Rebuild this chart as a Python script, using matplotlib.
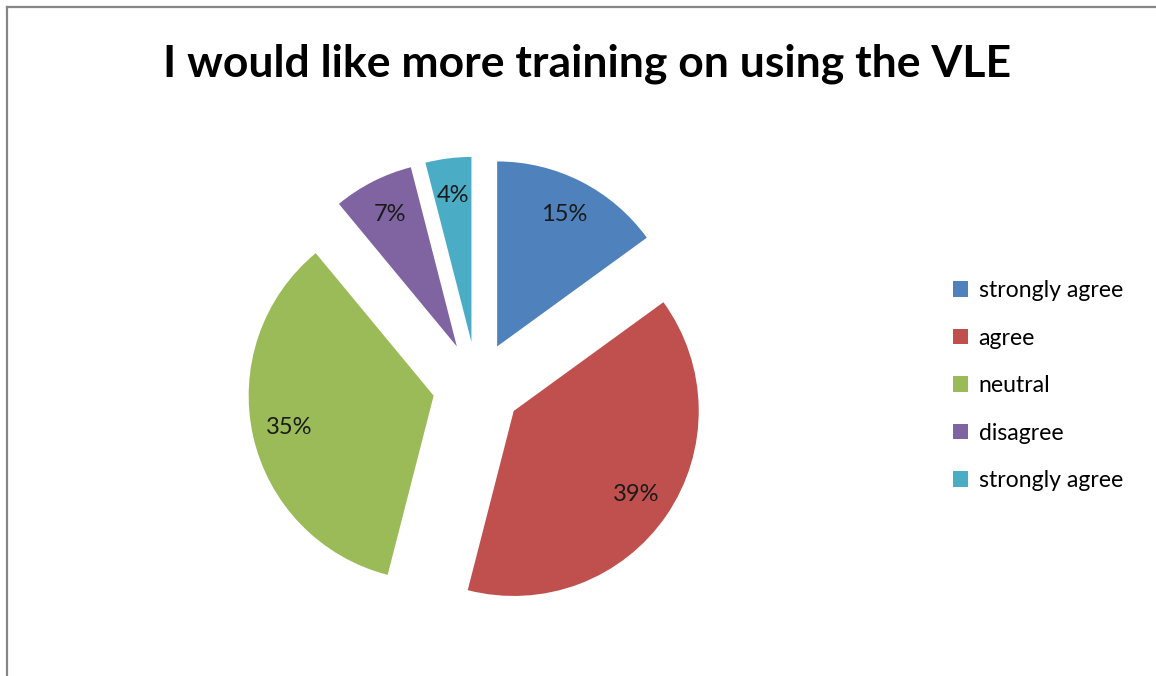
import matplotlib.pyplot as plt
from matplotlib.lines import Line2D

# Survey responses
labels = ['strongly agree', 'agree', 'neutral', 'disagree', 'strongly agree']
shares = [15, 39, 35, 7, 4]
colors = ['#4F81BD', '#C0504D', '#9BBB59', '#8064A2', '#4BACC6']
explode = [0.24, 0.24, 0.24, 0.24, 0.24]

plt.rcParams['font.family'] = ['Lato', 'DejaVu Sans']

W, H = 1156, 676
fig = plt.figure(figsize=(W / 100, H / 100), dpi=100)
fig.patch.set_facecolor('white')

# pie axes: 1 data unit = 185 px, centred at (477, 386) from top-left
unit = 185
cx, cy = 477, H - 386
half = 1.25 * unit
ax = fig.add_axes([(cx - half) / W, (cy - half) / H, 2 * half / W, 2 * half / H])

wedges, texts, autotexts = ax.pie(
    shares, colors=colors, explode=explode, startangle=90, counterclock=False,
    autopct='%1.0f%%', pctdistance=0.8,
    textprops={'fontsize': 17, 'color': '#1a1a1a'},
)
ax.set_xlim(-1.25, 1.25)
ax.set_ylim(-1.25, 1.25)
ax.set_aspect('equal')

fig.text(0.508, 1 - 64 / H, 'I would like more training on using the VLE',
         ha='center', va='center', fontsize=32, fontweight='bold', color='black')

fig.legend(wedges, labels, loc='upper left', bbox_to_anchor=(944 / W, 1 - 271 / H),
           frameon=False, fontsize=16.6, handlelength=0.65, handleheight=0.65,
           handletextpad=0.45, labelspacing=1.15, borderaxespad=0)

# chart border (left and top edges)
fig.add_artist(Line2D([7 / W, 7 / W], [0, 1 - 7 / H], color='#868686', lw=1.6))
fig.add_artist(Line2D([7 / W, 1], [1 - 7 / H, 1 - 7 / H], color='#868686', lw=1.6))

fig.savefig('out.png', dpi=100, facecolor='white')
